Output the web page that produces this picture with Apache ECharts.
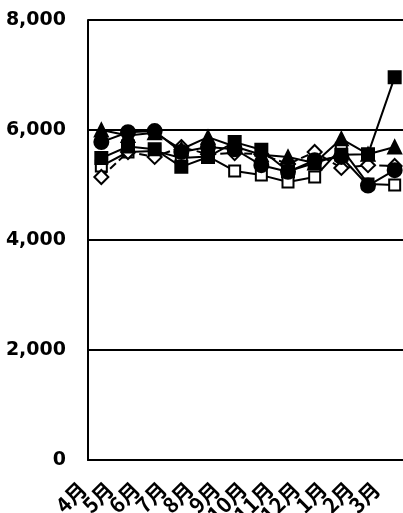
<!DOCTYPE html>
<html><head><meta charset="utf-8">
<script src="https://cdn.jsdelivr.net/npm/echarts@6/dist/echarts.min.js"></script>
<style>html,body{margin:0;padding:0;background:#fff}#c{width:403px;height:513px}</style>
</head><body><div id="c"></div>
<script>
const categories = ['4月','5月','6月','7月','8月','9月','10月','11月','12月','1月','2月','3月'];
const filledSquare = [5490,5700,5650,5330,5510,5780,5640,5250,5400,5550,5560,6960];
const openSquare   = [5345,5600,5620,5490,5520,5255,5180,5055,5145,5670,5020,5000];
const triangle     = [6000,5900,5950,5650,5870,5700,5550,5510,5400,5840,5560,5690];
const circle       = [5780,5960,5980,5600,5690,5650,5360,5240,5450,5510,4990,5270];
const diamond      = [5145,5600,5510,5690,5560,5580,5560,5380,5600,5310,5360,5345];
const yTicks = [0,2000,4000,6000,8000];

const chart = echarts.init(document.getElementById('c'));
function ser(data, symbol, size, fill, dashed, z){
  return {type:'line', data, symbol, symbolSize:size, showSymbol:true,
    lineStyle:{color:'#000', width:2, type: dashed?'dashed':'solid'},
    itemStyle:{color: fill, borderColor:'#000', borderWidth:2},
    z, animation:false};
}
chart.setOption({
  animation:false,
  grid:{left:88, top:20, width:320, height:440, containLabel:false, outerBoundsMode:'none'},
  xAxis:{type:'category', data:categories, boundaryGap:true,
    axisLine:{lineStyle:{color:'#000', width:2}},
    axisTick:{inside:true, length:5, lineStyle:{color:'#000', width:1.5}},
    axisLabel:{rotate:45, color:'#000', fontSize:21, fontWeight:'bold', margin:7,
      padding:[0,26,0,0], hideOverlap:false,
      fontFamily:'Noto Sans CJK JP', interval:0}},
  yAxis:{type:'value', min:yTicks[0], max:yTicks[yTicks.length-1], interval:2000,
    axisLine:{show:true, lineStyle:{color:'#000', width:2}},
    axisTick:{show:false},
    splitLine:{lineStyle:{color:'#000', width:2}},
    axisLabel:{color:'#000', fontSize:19, fontWeight:'bold', fontFamily:'DejaVu Sans', margin:22,
      formatter:v=>v.toLocaleString('en-US')}},
  series:[
    ser(openSquare,'rect',11,'#fff',false,2),
    ser(diamond,'diamond',14,'#fff',true,3),
    ser(filledSquare,'rect',12,'#000',false,4),
    ser(triangle,'triangle',13,'#000',false,5),
    ser(circle,'circle',14,'#000',false,6)
  ]
});
</script></body></html>
